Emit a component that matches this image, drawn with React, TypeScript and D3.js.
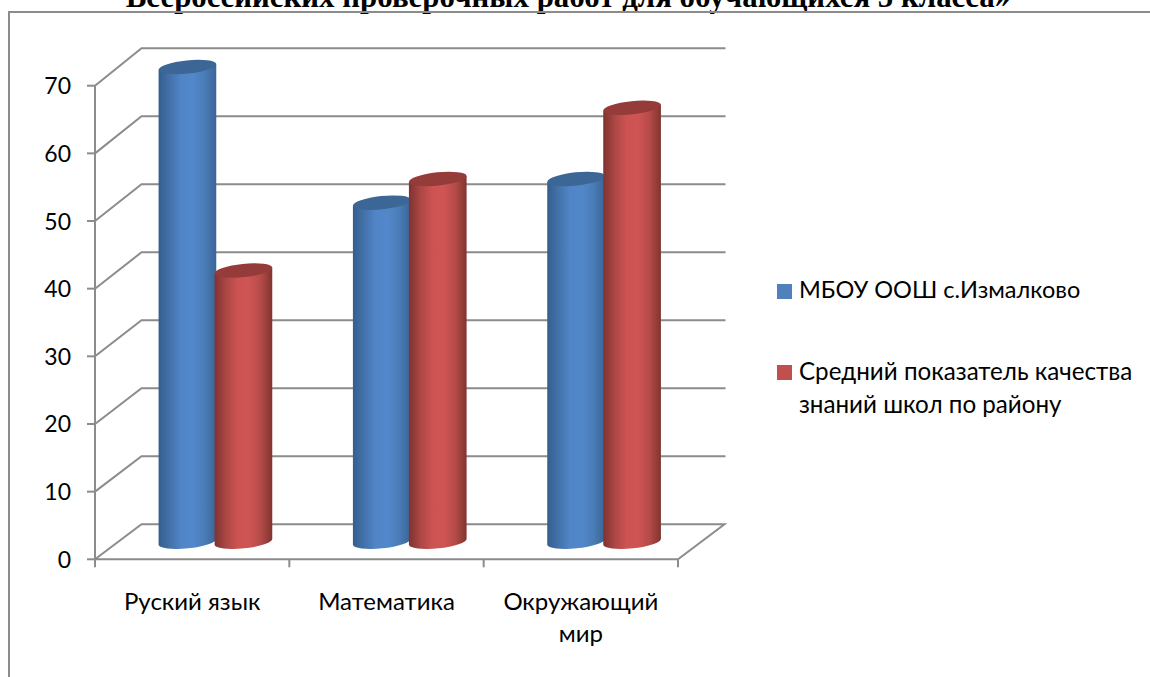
import React from "react";
import * as d3 from "d3";

const title = "Всероссийских проверочных работ для обучающихся 5 класса»";
const categories = ["Руский язык", "Математика", "Окружающий мир"];
const categoryLines = [["Руский язык"], ["Математика"], ["Окружающий", "мир"]];
const seriesNames = ["МБОУ ООШ с.Измалково", "Средний показатель качества", "знаний школ по району"];
const schoolValues = [70, 50, 53.5];
const districtValues = [40, 53.5, 64];
const yTicks = [0, 10, 20, 30, 40, 50, 60, 70];

const W = 1150, H = 677;
const FX0 = 95, FX1 = 678, DX = 46.5;
const y = d3.scaleLinear().domain([0, 70]).range([559.3, 85.7]);
const yBack = d3.scaleLinear().domain([0, 70]).range([524.3, 48.3]);
const yMid = d3.scaleLinear().domain([0, 70]).range([541.8, 67]);
const x = d3.scaleBand<string>().domain(categories).range([FX0 + DX / 2, FX1 + DX / 2]);
const RX = 29, RY = 6.6, TILT = -6;
const GRID = "#8c8c8c";
const FONT = "Lato, 'Open Sans', sans-serif";
const FS = 24;

function cyl(cx: number, value: number, body: string, cap: string, id: string) {
  const rad = (TILT * Math.PI) / 180;
  const ex = RX * Math.cos(rad), ey = RX * Math.sin(rad);
  const base = yMid(0);
  const top = yMid(value);
  const d = `M${cx - ex},${top - ey} L${cx - ex},${base - ey} A${RX},${RY} ${TILT} 0 0 ${cx + ex},${base + ey} L${cx + ex},${top + ey} Z`;
  return (
    <g key={id}>
      <path d={d} fill={`url(#${body})`} />
      <ellipse cx={cx} cy={top} rx={RX} ry={RY} fill={cap} transform={`rotate(${TILT} ${cx} ${top})`} />
    </g>
  );
}

function Grad({ id, stops }: { id: string; stops: string[] }) {
  const pos = d3.scaleLinear().domain([0, stops.length - 1]).range([0, 100]);
  return (
    <linearGradient id={id} x1="0" x2="1" y1="0" y2="0">
      {stops.map((c, i) => <stop key={i} offset={`${pos(i)}%`} stopColor={c} />)}
    </linearGradient>
  );
}

export default function App() {
  return (
    <svg width={W} height={H} viewBox={`0 0 ${W} ${H}`} style={{ position: "absolute", left: 0, top: 0, background: "#fff" }}>
      <defs>
        <Grad id="blueG" stops={["#345e8f", "#4472aa", "#5086c8", "#5288cb", "#4a7cb6", "#3a6596"]} />
        <Grad id="redG" stops={["#7f3331", "#ab4745", "#cc5351", "#cf5553", "#b54b49", "#80342f"]} />
      </defs>
      <text x={568} y={7} textAnchor="middle" fontFamily="'Liberation Serif', serif" fontWeight="bold" fontSize={30.9}>{title}</text>
      <path d={`M9,${H} V12 H${W}`} fill="none" stroke={GRID} strokeWidth={2} />

      {yTicks.slice(1).map((t) => (
        <polyline key={t} points={`${FX0},${y(t)} ${FX0 + DX},${yBack(t)} ${FX1 + DX + 1},${yBack(t)}`} fill="none" stroke={GRID} strokeWidth={2} />
      ))}
      <polyline points={`${FX0},${y(0)} ${FX0 + DX},${yBack(0)} ${FX1 + DX},${yBack(0)} ${FX1},${y(0)} ${FX0},${y(0)}`} fill="none" stroke={GRID} strokeWidth={2} />
      <line x1={FX0} x2={FX0} y1={y(70)} y2={y(0)} stroke={GRID} strokeWidth={2} />
      {yTicks.map((t) => (
        <g key={t}>
          <line x1={FX0 - 8} x2={FX0} y1={y(t)} y2={y(t)} stroke={GRID} strokeWidth={2} />
          <text x={71} y={y(t) + 8.5} textAnchor="end" fontFamily={FONT} fontSize={23}>{t}</text>
        </g>
      ))}
      {[0, 1, 2, 3].map((i) => {
        const px = FX0 + (i * (FX1 - FX0)) / 3;
        return <line key={i} x1={px} x2={px} y1={y(0)} y2={y(0) + 8} stroke={GRID} strokeWidth={2} />;
      })}

      {categories.map((c, i) => {
        const cx = x(c)! + x.bandwidth() / 2;
        return (
          <g key={c}>
            {cyl(cx - 28, schoolValues[i], "blueG", "#3c6695", `b${i}`)}
            {cyl(cx + 28, districtValues[i], "redG", "#953b39", `r${i}`)}
          </g>
        );
      })}

      {categoryLines.map((lines, i) => {
        const cx = FX0 + ((i + 0.5) * (FX1 - FX0)) / 3;
        return lines.map((l, j) => (
          <text key={l} x={cx} y={610 + j * 32} textAnchor="middle" fontFamily={FONT} fontSize={FS}>{l}</text>
        ));
      })}

      <rect x={777} y={284} width={15} height={15} fill="#4f81bd" />
      <text x={799} y={298} fontFamily={FONT} fontSize={23.5}>{seriesNames[0]}</text>
      <rect x={777} y={365} width={15} height={15} fill="#c0504d" />
      <text x={799} y={380} fontFamily={FONT} fontSize={24.2}>{seriesNames[1]}</text>
      <text x={799} y={413} fontFamily={FONT} fontSize={24.2}>{seriesNames[2]}</text>
    </svg>
  );
}
